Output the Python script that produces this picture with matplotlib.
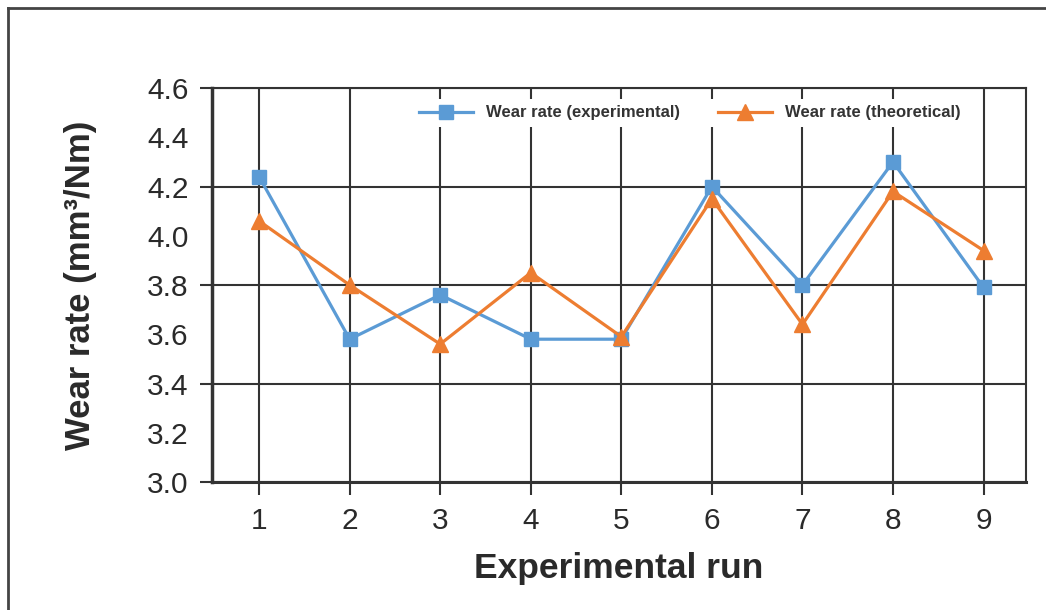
import numpy as np
import matplotlib.pyplot as plt
from matplotlib.lines import Line2D

plt.rcParams['font.family'] = ['Liberation Sans', 'DejaVu Sans']

runs = np.arange(1, 10)
wear_exp = [4.24, 3.58, 3.76, 3.58, 3.58, 4.20, 3.80, 4.30, 3.79]
wear_theo = [4.06, 3.80, 3.56, 3.85, 3.59, 4.15, 3.64, 4.18, 3.94]
major_y = [3.0, 3.4, 3.8, 4.2, 4.6]
minor_y = [3.2, 3.6, 4.0, 4.4]

blue = '#5b9bd5'
orange = '#ed7d31'
grid_c = '#333333'

fig = plt.figure(figsize=(10.46, 6.10), dpi=100)
ax = fig.add_axes([0.2027, 0.2098, 0.7783, 0.6459])

ax.plot(runs, wear_exp, color=blue, lw=2.3, marker='s', ms=10,
        label='Wear rate (experimental)', zorder=3)
ax.plot(runs, wear_theo, color=orange, lw=2.3, marker='^', ms=11,
        label='Wear rate (theoretical)', zorder=3)

ax.set_xlim(0.48, 9.47)
ax.set_ylim(3.0, 4.6)
ax.set_xticks(runs)
ax.set_yticks(major_y)
ax.set_yticks(minor_y, minor=True)
ax.set_yticklabels(['%.1f' % v for v in major_y])
ax.set_yticklabels(['%.1f' % v for v in minor_y], minor=True)

ax.grid(True, which='major', color=grid_c, lw=1.5, zorder=1)
ax.tick_params(axis='both', which='major', labelsize=21.5, colors=grid_c,
               labelcolor='#2a2a2a', width=1.5)
ax.tick_params(axis='y', which='major', length=9, pad=8)
ax.tick_params(axis='y', which='minor', length=0, pad=17, labelsize=21.5,
               labelcolor='#2a2a2a')
ax.tick_params(axis='x', which='major', length=9, pad=9)

for s in ax.spines.values():
    s.set_color(grid_c)
    s.set_linewidth(1.5)
ax.spines['left'].set_linewidth(2.5)
ax.spines['bottom'].set_linewidth(2.2)

ax.set_xlabel('Experimental run', fontsize=25.5, fontweight='bold',
              color='#2a2a2a', labelpad=12)
ax.set_ylabel('Wear rate (mm³/Nm)', fontsize=25, fontweight='bold',
              color='#2a2a2a', labelpad=36)

leg = ax.legend(loc='center', bbox_to_anchor=(0.587, 0.937), ncol=2,
                fontsize=12, frameon=True, fancybox=False,
                handlelength=3.2, handletextpad=0.8, columnspacing=2.3,
                borderpad=0.4)
leg.get_frame().set_edgecolor('none')
leg.get_frame().set_facecolor('white')
leg.get_frame().set_alpha(1)
for t in leg.get_texts():
    t.set_fontweight('bold')
    t.set_color('#333333')

# frame around the picture (left and top edges)
fig.add_artist(Line2D([0.008, 0.008], [0, 0.987], color='#444444', lw=2,
                      transform=fig.transFigure))
fig.add_artist(Line2D([0.008, 1.0], [0.987, 0.987], color='#444444', lw=2,
                      transform=fig.transFigure))

fig.savefig('out.png', dpi=100)
